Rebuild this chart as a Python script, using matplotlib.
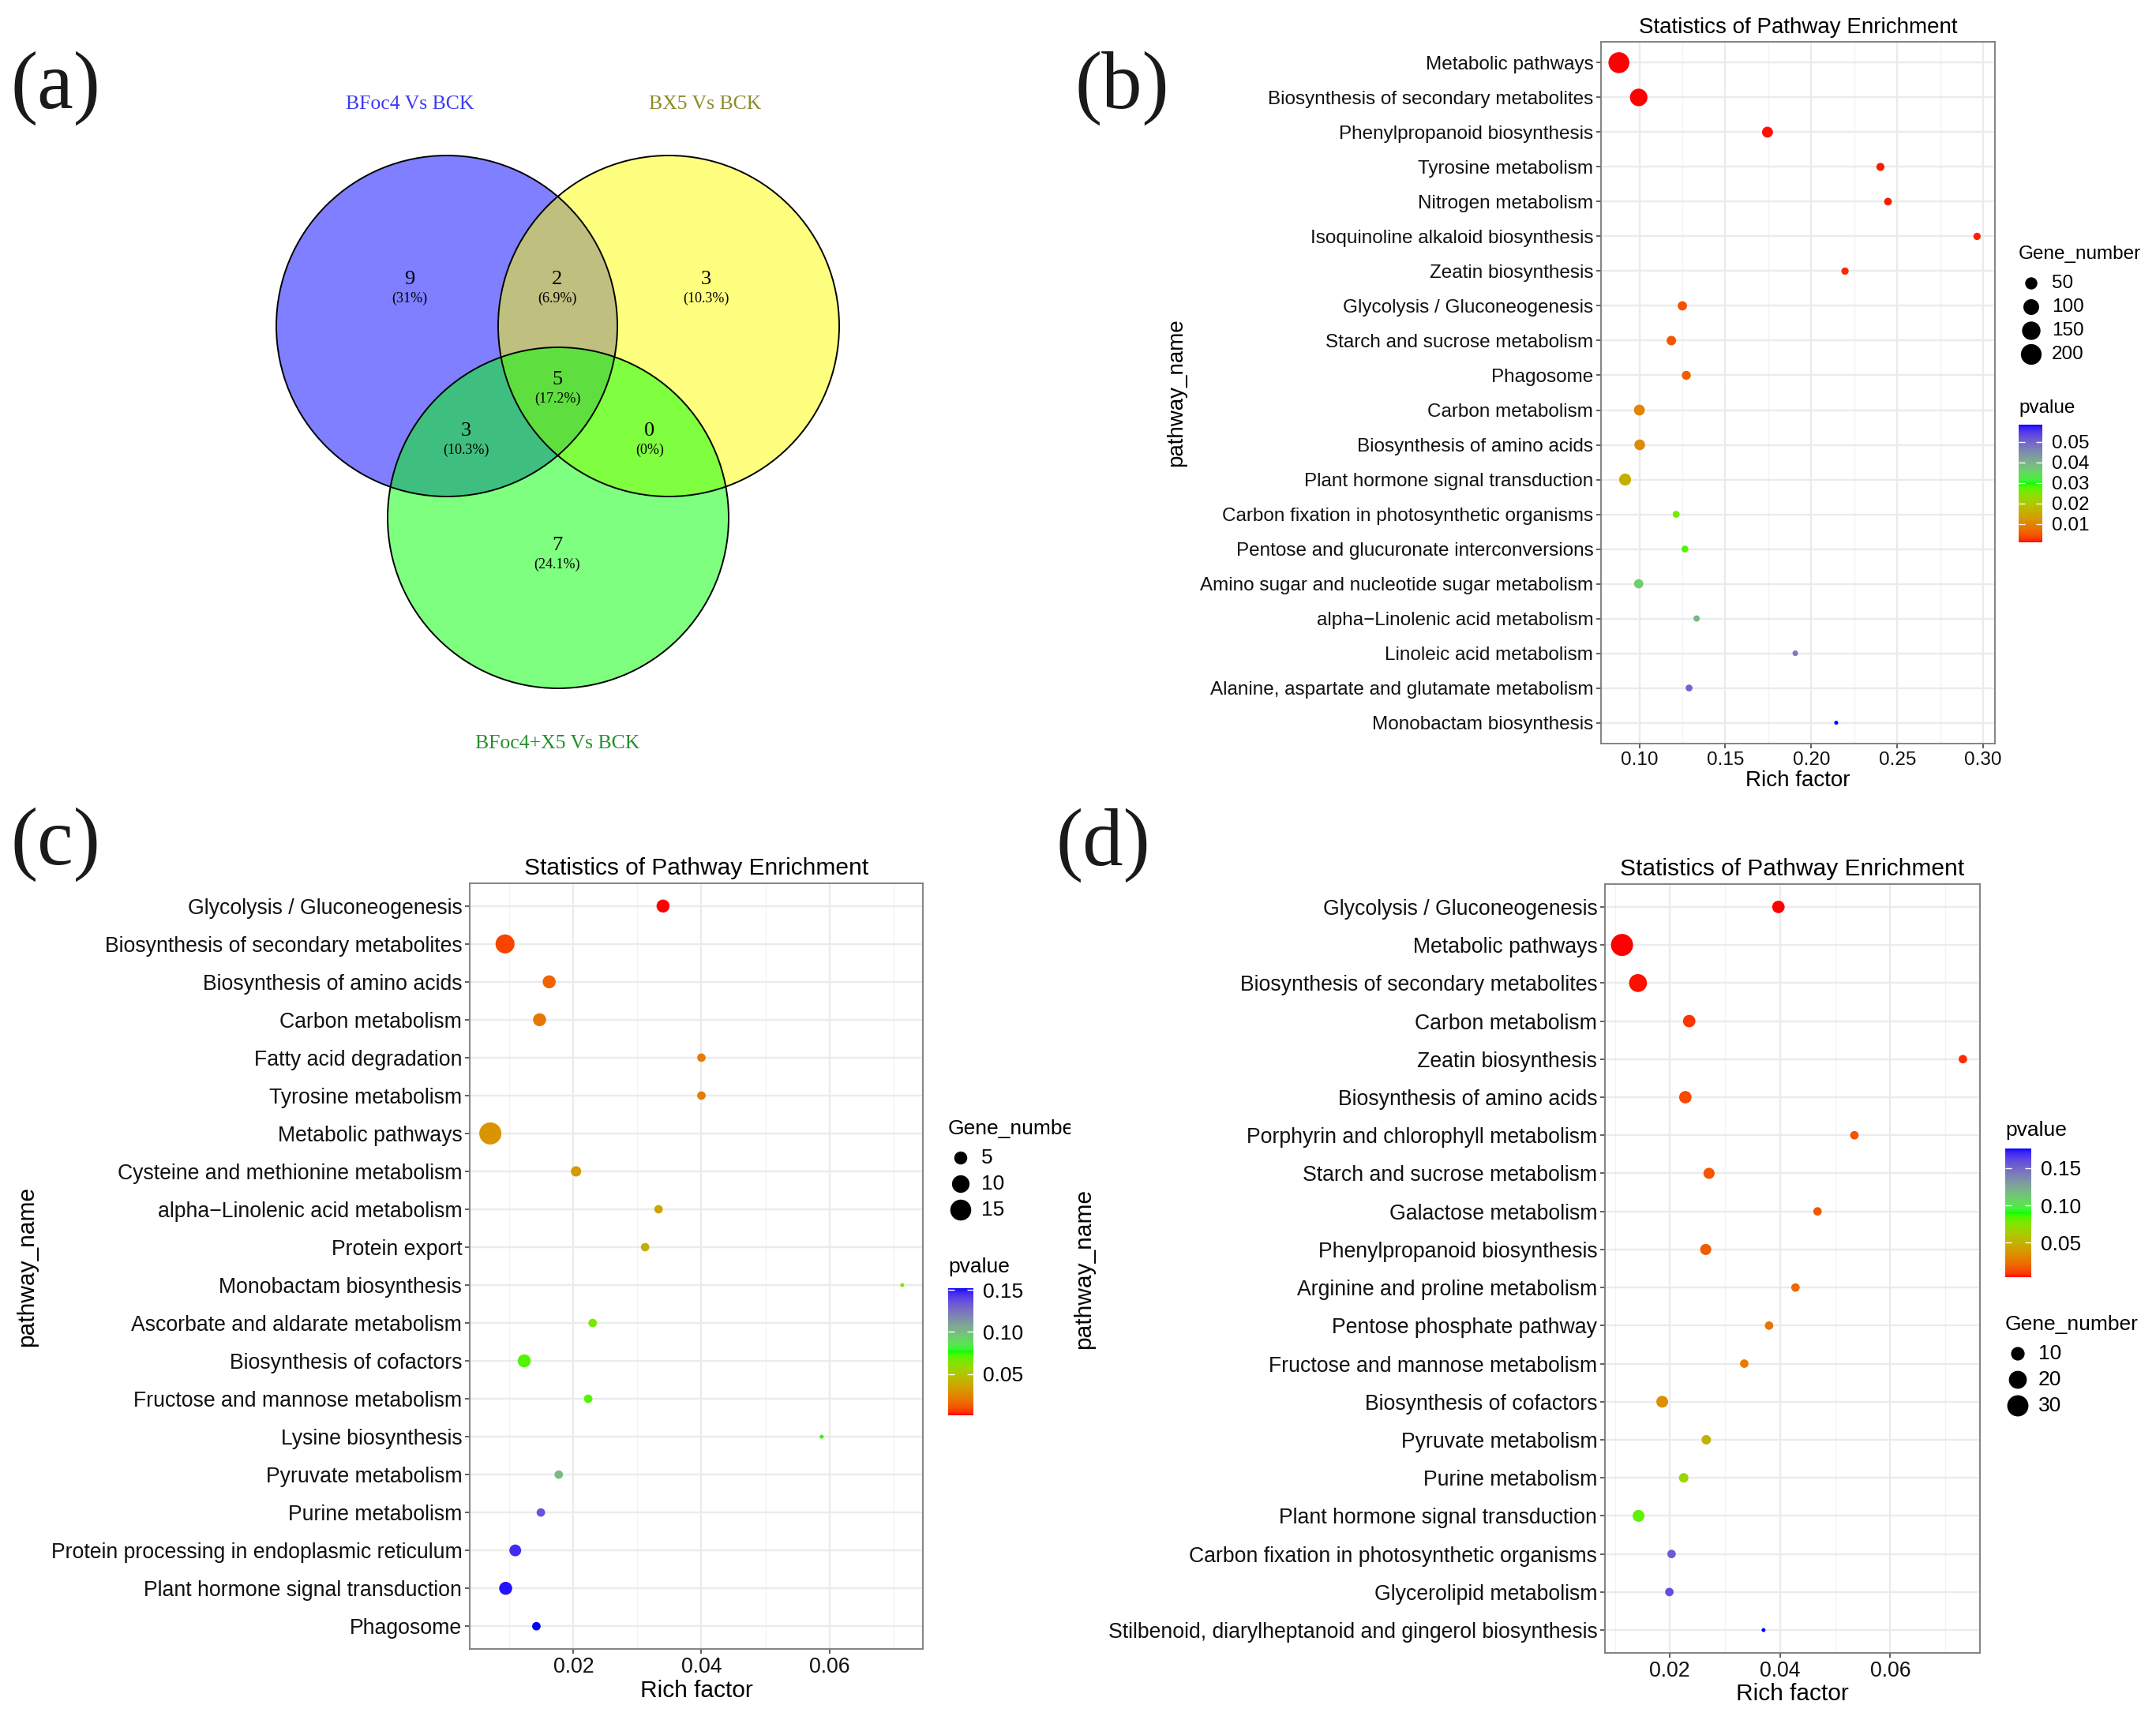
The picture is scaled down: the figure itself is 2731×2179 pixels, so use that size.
import numpy as np
import matplotlib
matplotlib.use('Agg')
import matplotlib.pyplot as plt
import matplotlib.colors as mcolors
from matplotlib.patches import Circle
from matplotlib.cm import ScalarMappable
from matplotlib.ticker import MultipleLocator, FormatStrFormatter
from matplotlib.transforms import Bbox, TransformedBbox

plt.rcParams['font.family'] = ['Liberation Sans', 'DejaVu Sans']

W, H = 2731, 2179

# ---- (a) venn data
venn_names = ['BFoc4 Vs BCK', 'BX5 Vs BCK', 'BFoc4+X5 Vs BCK']
venn_counts = [9, 2, 3, 5, 3, 0, 7]
venn_pcts = ['(31%)', '(6.9%)', '(10.3%)', '(17.2%)', '(10.3%)', '(0%)', '(24.1%)']

# ---- (b) BFoc4 vs BCK
b_path = ['Metabolic pathways', 'Biosynthesis of secondary metabolites', 'Phenylpropanoid biosynthesis',
          'Tyrosine metabolism', 'Nitrogen metabolism', 'Isoquinoline alkaloid biosynthesis',
          'Zeatin biosynthesis', 'Glycolysis / Gluconeogenesis', 'Starch and sucrose metabolism',
          'Phagosome', 'Carbon metabolism', 'Biosynthesis of amino acids',
          'Plant hormone signal transduction', 'Carbon fixation in photosynthetic organisms',
          'Pentose and glucuronate interconversions', 'Amino sugar and nucleotide sugar metabolism',
          'alpha\u2212Linolenic acid metabolism', 'Linoleic acid metabolism',
          'Alanine, aspartate and glutamate metabolism', 'Monobactam biosynthesis']
b_rich = [0.0881, 0.0996, 0.1745, 0.2402, 0.2446, 0.2964, 0.2196, 0.1250, 0.1186, 0.1273,
          0.1000, 0.1002, 0.0917, 0.1214, 0.1265, 0.0996, 0.1333, 0.1907, 0.1289, 0.2145]
b_gene = [205, 132, 36, 14, 12, 10, 10, 22, 24, 20, 36, 34, 48, 8, 8, 22, 6, 4, 8, 2]
b_p = [0.0010, 0.0011, 0.0013, 0.0015, 0.0016, 0.0017, 0.0019, 0.0045, 0.0050, 0.0055,
       0.0100, 0.0105, 0.0160, 0.0260, 0.0280, 0.0360, 0.0390, 0.0470, 0.0500, 0.0584]
b_size_breaks = [50, 100, 150, 200]
b_p_breaks = [0.01, 0.02, 0.03, 0.04, 0.05]

# ---- (c)
c_path = ['Glycolysis / Gluconeogenesis', 'Biosynthesis of secondary metabolites',
          'Biosynthesis of amino acids', 'Carbon metabolism', 'Fatty acid degradation',
          'Tyrosine metabolism', 'Metabolic pathways', 'Cysteine and methionine metabolism',
          'alpha\u2212Linolenic acid metabolism', 'Protein export', 'Monobactam biosynthesis',
          'Ascorbate and aldarate metabolism', 'Biosynthesis of cofactors',
          'Fructose and mannose metabolism', 'Lysine biosynthesis', 'Pyruvate metabolism',
          'Purine metabolism', 'Protein processing in endoplasmic reticulum',
          'Plant hormone signal transduction', 'Phagosome']
c_rich = [0.0340, 0.0093, 0.0162, 0.0147, 0.0400, 0.0400, 0.0070, 0.0204, 0.0333, 0.0312,
          0.0714, 0.0230, 0.0123, 0.0223, 0.0588, 0.0177, 0.0149, 0.0109, 0.0094, 0.0142]
c_gene = [5, 12, 5, 5, 2, 2, 17, 3, 2, 2, 1, 2, 5, 2, 1, 2, 2, 4, 5, 2]
c_p = [0.0010, 0.0080, 0.0150, 0.0200, 0.0220, 0.0220, 0.0300, 0.0320, 0.0360, 0.0400,
       0.0640, 0.0660, 0.0720, 0.0720, 0.0750, 0.1000, 0.1350, 0.1460, 0.1500, 0.1520]
c_size_breaks = [5, 10, 15]
c_p_breaks = [0.05, 0.10, 0.15]

# ---- (d)
d_path = ['Glycolysis / Gluconeogenesis', 'Metabolic pathways', 'Biosynthesis of secondary metabolites',
          'Carbon metabolism', 'Zeatin biosynthesis', 'Biosynthesis of amino acids',
          'Porphyrin and chlorophyll metabolism', 'Starch and sucrose metabolism',
          'Galactose metabolism', 'Phenylpropanoid biosynthesis', 'Arginine and proline metabolism',
          'Pentose phosphate pathway', 'Fructose and mannose metabolism', 'Biosynthesis of cofactors',
          'Pyruvate metabolism', 'Purine metabolism', 'Plant hormone signal transduction',
          'Carbon fixation in photosynthetic organisms', 'Glycerolipid metabolism',
          'Stilbenoid, diarylheptanoid and gingerol biosynthesis']
d_rich = [0.0397, 0.0113, 0.0142, 0.0235, 0.0732, 0.0228, 0.0535, 0.0271, 0.0468, 0.0265,
          0.0428, 0.0380, 0.0335, 0.0186, 0.0266, 0.0225, 0.0143, 0.0203, 0.0199, 0.0370]
d_gene = [8, 33, 20, 8, 3, 8, 3, 6, 3, 6, 3, 3, 3, 7, 4, 4, 7, 3, 3, 1]
d_p = [0.0040, 0.0045, 0.0050, 0.0090, 0.0075, 0.0125, 0.0150, 0.0160, 0.0165, 0.0170,
       0.0210, 0.0250, 0.0280, 0.0350, 0.0500, 0.0680, 0.0830, 0.1550, 0.1590, 0.1760]
d_size_breaks = [10, 20, 30]
d_p_breaks = [0.05, 0.10, 0.15]


# ggplot-like gradient: red -> green -> blue, interpolated in CIELAB
M_XYZ = np.array([[0.4124, 0.3576, 0.1805], [0.2126, 0.7152, 0.0722], [0.0193, 0.1192, 0.9505]])
WHITE = np.array([0.95047, 1.0, 1.08883])


def rgb2lab(rgb):
    lin = np.where(rgb <= 0.04045, rgb / 12.92, ((rgb + 0.055) / 1.055) ** 2.4)
    xyz = lin @ M_XYZ.T / WHITE
    f = np.where(xyz > 0.008856, np.cbrt(xyz), 7.787 * xyz + 16 / 116)
    return np.column_stack([116 * f[:, 1] - 16, 500 * (f[:, 0] - f[:, 1]), 200 * (f[:, 1] - f[:, 2])])


def lab2rgb(lab):
    fy = (lab[:, 0] + 16) / 116
    f = np.column_stack([fy + lab[:, 1] / 500, fy, fy - lab[:, 2] / 200])
    xyz = np.where(f ** 3 > 0.008856, f ** 3, (f - 16 / 116) / 7.787) * WHITE
    lin = np.clip(xyz @ np.linalg.inv(M_XYZ).T, 0, None)
    rgb = np.where(lin <= 0.0031308, 12.92 * lin, 1.055 * lin ** (1 / 2.4) - 0.055)
    return np.clip(rgb, 0, 1)


anchors = rgb2lab(np.array([mcolors.to_rgb(c) for c in ['#FF0000', '#00FF00', '#0000FF']]))
tt = np.linspace(0, 1, 256)
lab = np.column_stack([np.interp(tt, [0, 0.5, 1], anchors[:, k]) for k in range(3)])
cmap = mcolors.ListedColormap(lab2rgb(lab))

fig = plt.figure(figsize=(W / 100, H / 100), dpi=100)

# overlay in pixel coordinates for venn, legends and panel letters
ov = fig.add_axes([0, 0, 1, 1])
ov.set_xlim(0, W)
ov.set_ylim(H, 0)
ov.axis('off')

for lab_txt, (x, y) in zip(['(a)', '(b)', '(c)', '(d)'], [(70, 112), (1421, 112), (70, 1070), (1397, 1071)]):
    ov.text(x, y, lab_txt, fontsize=74, family='Liberation Serif', ha='center', va='center', color='#1a1a1a')

# ---- venn
centers = [(566, 413), (847, 413), (707, 656)]
fills = ['#0000FF', '#FFFF00', '#00FF00']
for (cx, cy), fc in zip(centers, fills):
    ov.add_patch(Circle((cx, cy), 216, facecolor=fc, alpha=0.5, edgecolor='none'))
for (cx, cy) in centers:
    ov.add_patch(Circle((cx, cy), 216, facecolor='none', edgecolor='black', lw=1.4))
region_xy = [(519, 354), (706, 354), (894, 354), (706, 481), (590, 546), (823, 546), (706, 691)]
for (x, y), n, pc in zip(region_xy, venn_counts, venn_pcts):
    ov.text(x, y, str(n), fontsize=19, family='Liberation Serif', ha='center', va='center')
    ov.text(x, y + 24, pc, fontsize=13, family='Liberation Serif', ha='center', va='center')
for (x, y), nm, col in zip([(519, 132), (893, 132), (706, 942)], venn_names, ['#3a3af5', '#8b8b2a', '#23902a']):
    ov.text(x, y, nm, fontsize=18.5, family='Liberation Serif', ha='center', va='center', color=col)


def size_px(v, lo, hi, dmin=5.0, dmax=27.0):
    v = np.asarray(v, dtype=float)
    return dmin + (dmax - dmin) * np.sqrt((v - lo) / (hi - lo))


def dot_panel(box, names, rich, gene, pval, step, fs, tfs, dmax):
    x0, y0, x1, y1 = box
    ax = fig.add_axes([x0 / W, 1 - y1 / H, (x1 - x0) / W, (y1 - y0) / H])
    n = len(names)
    ypos = np.arange(n, 0, -1)
    glo, ghi = min(gene), max(gene)
    d = size_px(gene, glo, ghi, dmax=dmax)
    norm = mcolors.Normalize(min(pval), max(pval))
    ax.scatter(rich, ypos, s=(d * 0.72) ** 2, c=pval, cmap=cmap, norm=norm, edgecolors='none', zorder=3)
    lo, hi = min(rich), max(rich)
    pad = 0.05 * (hi - lo)
    ax.set_xlim(lo - pad, hi + pad)
    ax.set_ylim(0.4, n + 0.6)
    ax.set_yticks(ypos)
    ax.set_yticklabels(names)
    ax.xaxis.set_major_locator(MultipleLocator(step))
    ax.xaxis.set_minor_locator(MultipleLocator(step / 2))
    ax.xaxis.set_major_formatter(FormatStrFormatter('%.2f'))
    ax.grid(which='major', color='#EBEBEB', lw=1.7)
    ax.grid(which='minor', axis='x', color='#F2F2F2', lw=0.9)
    ax.set_axisbelow(True)
    ax.tick_params(which='major', length=4, width=1.2, color='#444444', labelsize=fs, pad=3,
                   labelcolor='#111111')
    ax.tick_params(which='minor', length=0)
    for sp in ax.spines.values():
        sp.set_color('#7a7a7a')
        sp.set_linewidth(1.3)
    ax.set_title('Statistics of Pathway Enrichment', fontsize=tfs, pad=8)
    ax.set_xlabel('Rich factor', fontsize=tfs, labelpad=2)
    ax.set_ylabel('pathway_name', fontsize=tfs, labelpad=12)
    return norm, glo, ghi


def size_legend(x, y, breaks, lo, hi, dmax, fs, clip_x=None):
    t = ov.text(x, y, 'Gene_number', fontsize=fs, ha='left', va='center')
    if clip_x is not None:
        t.set_clip_on(True)
        t.set_clip_box(TransformedBbox(Bbox([[0, 0], [clip_x, H]]), ov.transData))
    step = 30 if fs < 18.5 else 33
    ys = y + 37 + step * np.arange(len(breaks))
    d = size_px(breaks, lo, hi, dmax=dmax)
    ov.scatter(np.full(len(breaks), x + 16), ys, s=(d * 0.72) ** 2, color='black', edgecolors='none')
    for yy, b in zip(ys, breaks):
        ov.text(x + 42, yy, str(b), fontsize=fs, ha='left', va='center')


def p_legend(x, y, bar, norm, breaks, fs):
    bx0, by0, bx1, by1 = bar
    ov.text(x, y, 'pvalue', fontsize=fs, ha='left', va='center')
    cax = fig.add_axes([bx0 / W, 1 - by1 / H, (bx1 - bx0) / W, (by1 - by0) / H])
    cb = fig.colorbar(ScalarMappable(norm=norm, cmap=cmap), cax=cax)
    cb.outline.set_visible(False)
    cb.set_ticks(breaks)
    cb.ax.yaxis.set_major_formatter(FormatStrFormatter('%.2f'))
    cb.ax.yaxis.set_ticks_position('both')
    cb.ax.tick_params(color='white', length=6, width=1, direction='in', labelsize=fs, pad=9,
                      labelright=True, labelleft=False)


# (b)
nb, lb, hb = dot_panel((2028, 53, 2527, 942), b_path, b_rich, b_gene, b_p, 0.05, 17.5, 20, 26.5)
size_legend(2557, 322, b_size_breaks, lb, hb, 26.5, 17.5)
p_legend(2557, 517, (2557, 538, 2587, 687), nb, b_p_breaks, 17.5)

# (c)
nc, lc, hc = dot_panel((595, 1119, 1169, 2089), c_path, c_rich, c_gene, c_p, 0.02, 19.2, 21.5, 28)
size_legend(1201, 1430, c_size_breaks, lc, hc, 28, 19, clip_x=1356)
p_legend(1201, 1605, (1201, 1632, 1233, 1793), nc, c_p_breaks, 19)

# (d)
nd, ld, hd = dot_panel((2033, 1120, 2508, 2094), d_path, d_rich, d_gene, d_p, 0.02, 19.2, 21.5, 28)
p_legend(2540, 1432, (2540, 1455, 2573, 1618), nd, d_p_breaks, 19)
size_legend(2540, 1678, d_size_breaks, ld, hd, 28, 19)

fig.savefig('out.png', dpi=100, facecolor='white')
